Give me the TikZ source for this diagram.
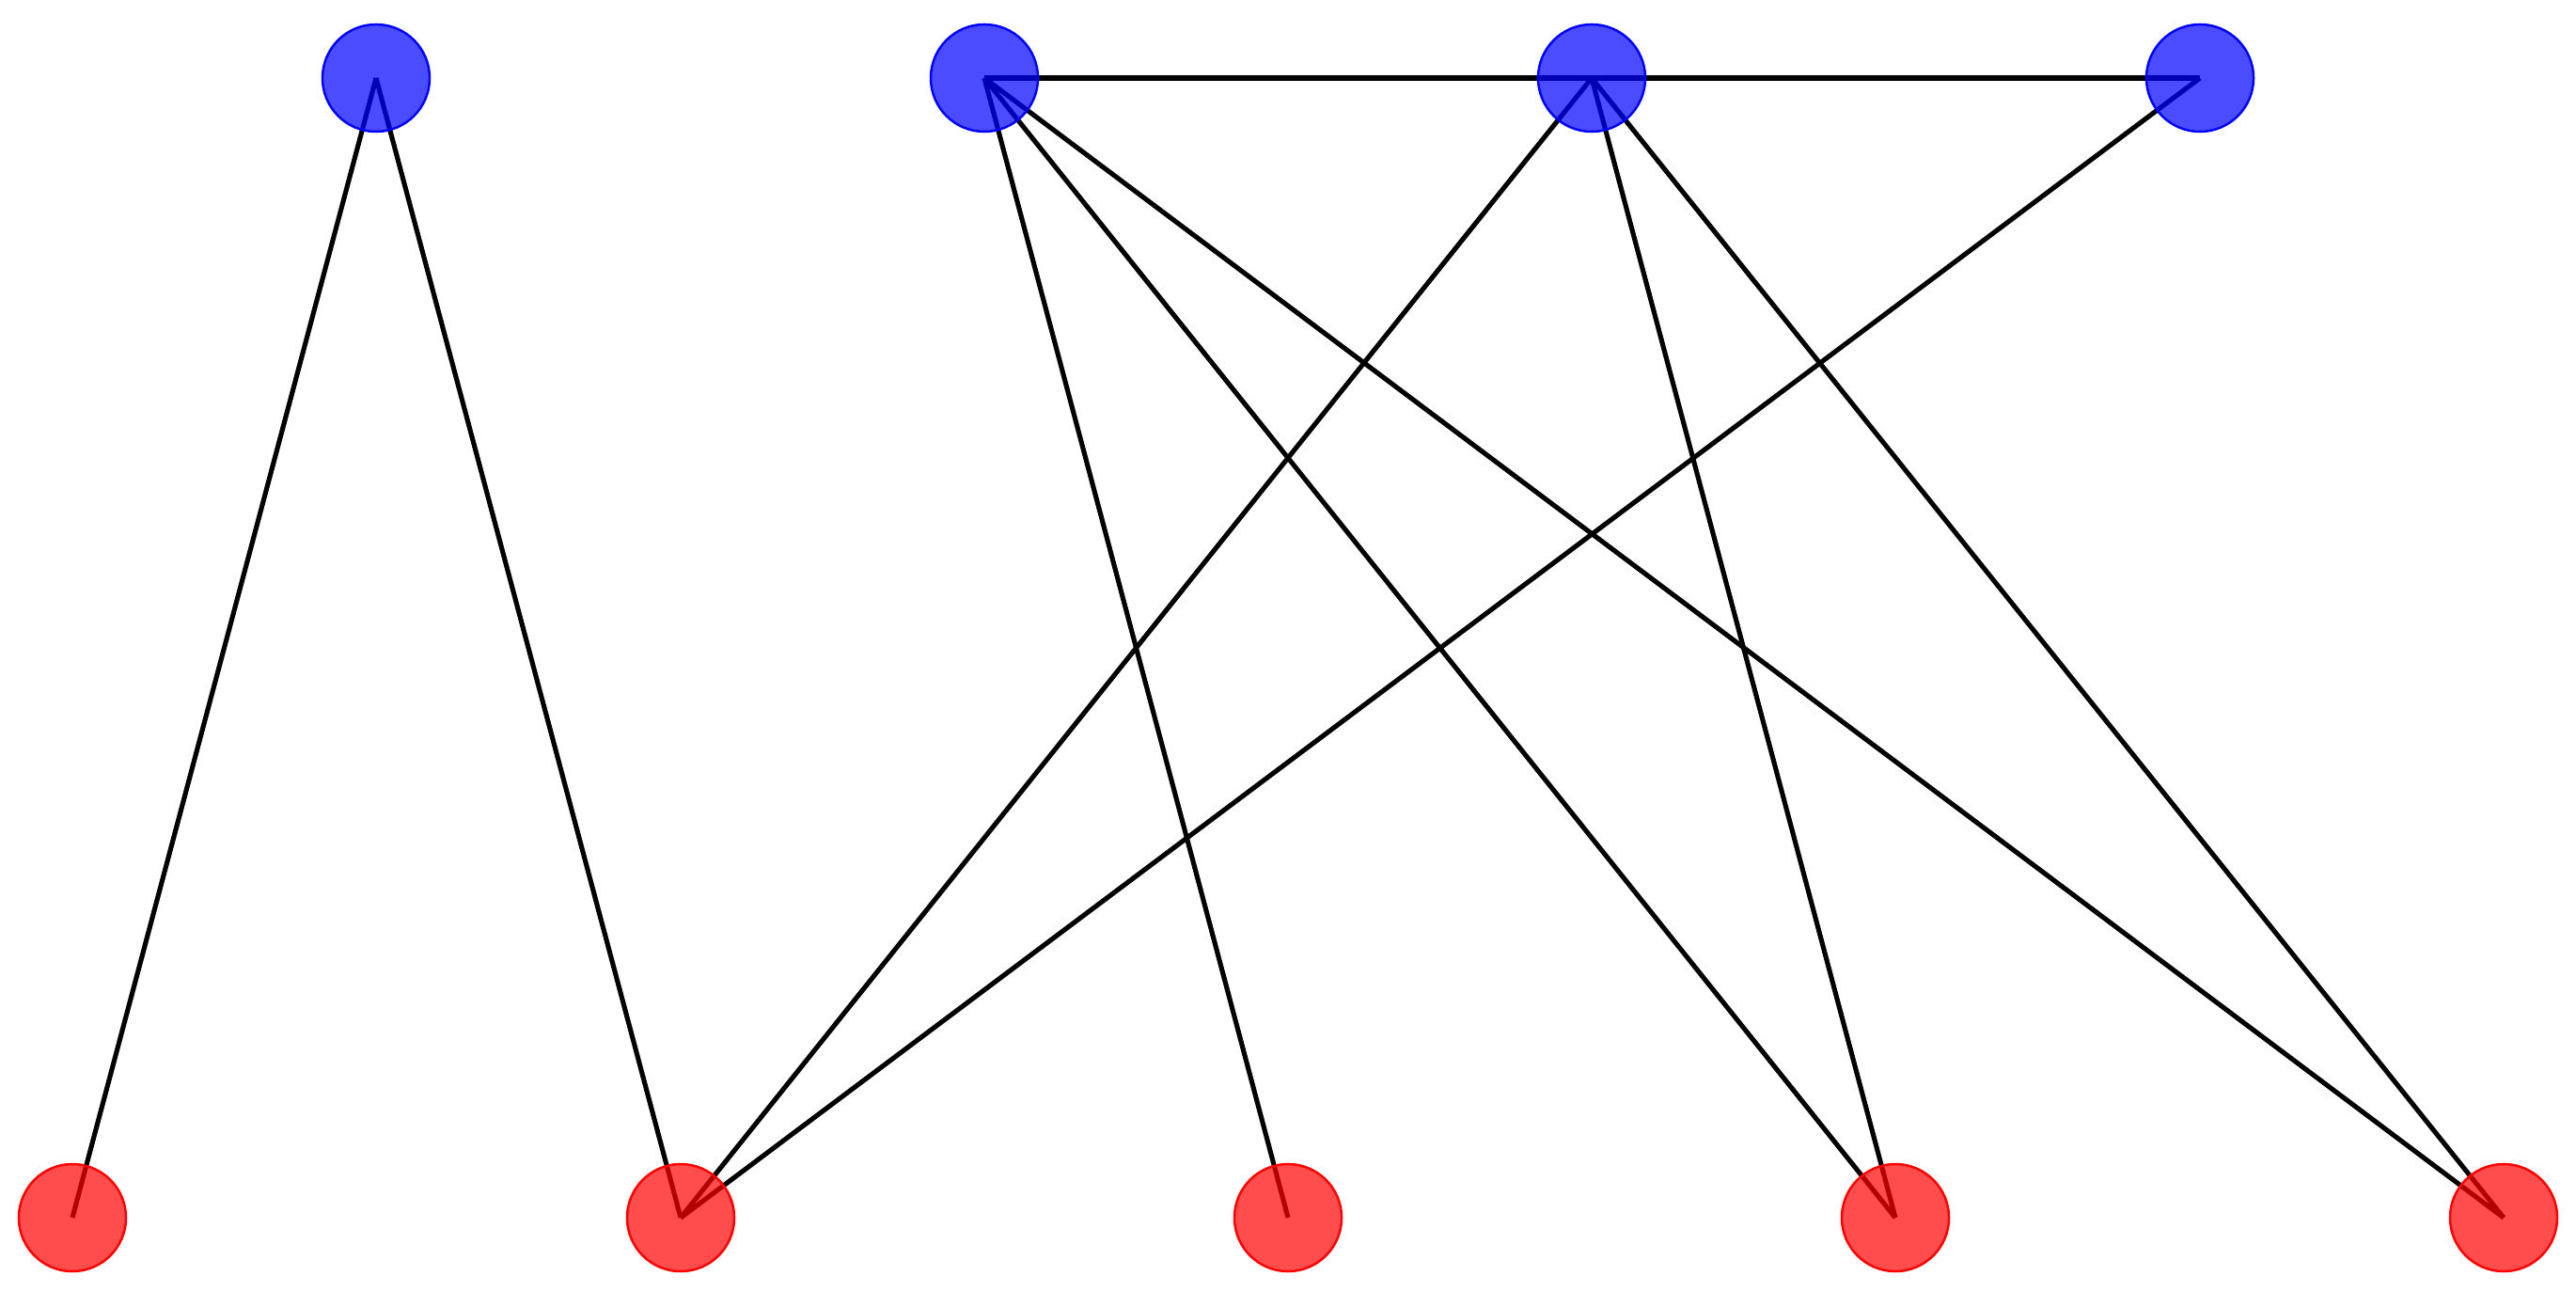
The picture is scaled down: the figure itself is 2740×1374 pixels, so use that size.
\documentclass[tikz,border=0pt]{standalone}
\usetikzlibrary{backgrounds}
\begin{document}
\begin{tikzpicture}[x=0.01cm,y=-0.01cm,
  bnode/.style={circle,minimum size=1.14cm,inner sep=0pt,draw=blue,line width=0.7pt,fill=blue,fill opacity=0.7},
  rnode/.style={circle,minimum size=1.14cm,inner sep=0pt,draw=red,line width=0.7pt,fill=red,fill opacity=0.7},
  edge/.style={draw=black,line width=1.45pt}]
\useasboundingbox (0,0) rectangle (2740,1374);
\node[bnode] (b1) at (400,83) {};
\node[bnode] (b2) at (1047,83) {};
\node[bnode] (b3) at (1693,83) {};
\node[bnode] (b4) at (2340,83) {};
\node[rnode] (r1) at (77,1295) {};
\node[rnode] (r2) at (724,1295) {};
\node[rnode] (r3) at (1370,1295) {};
\node[rnode] (r4) at (2016,1295) {};
\node[rnode] (r5) at (2663,1295) {};
\begin{pgfonlayer}{background}
\draw[edge] (b1.center) -- (r1.center);
\draw[edge] (b1.center) -- (r2.center);
\draw[edge] (b2.center) -- (b3.center);
\draw[edge] (b3.center) -- (b4.center);
\draw[edge] (b2.center) -- (r3.center);
\draw[edge] (b2.center) -- (r4.center);
\draw[edge] (b2.center) -- (r5.center);
\draw[edge] (b3.center) -- (r2.center);
\draw[edge] (b3.center) -- (r4.center);
\draw[edge] (b3.center) -- (r5.center);
\draw[edge] (b4.center) -- (r2.center);
\end{pgfonlayer}
\end{tikzpicture}
\end{document}
